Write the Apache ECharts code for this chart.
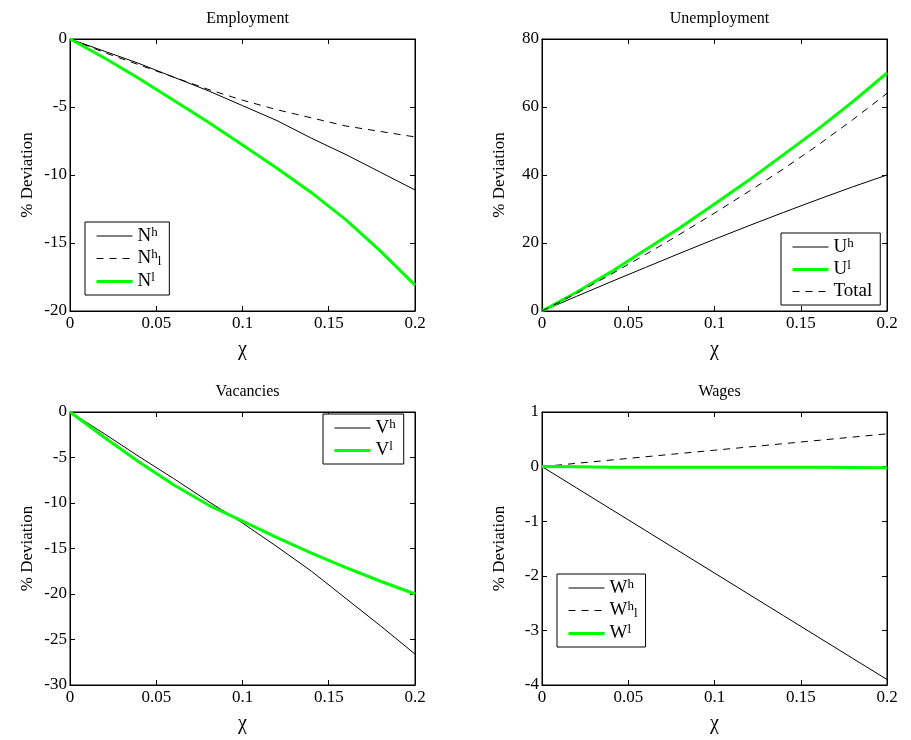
<!DOCTYPE html>
<html>
<head>
<meta charset="utf-8">
<script src="https://cdn.jsdelivr.net/npm/echarts@6/dist/echarts.min.js"></script>
<style>
  html, body { margin: 0; padding: 0; background: #fff; }
  #chart { width: 911px; height: 740px; }
</style>
</head>
<body>
<div id="chart"></div>
<script>
// chi grid (x axis)
const chi = [0, 0.02, 0.04, 0.06, 0.08, 0.1, 0.12, 0.14, 0.16, 0.18, 0.2]

// Employment
const empNh = [0, -0.9, -1.8, -2.8, -3.8, -4.9, -6.0, -7.3, -8.5, -9.8, -11.1]
const empNhl = [0, -1.0, -1.9, -2.8, -3.7, -4.5, -5.2, -5.8, -6.4, -6.8, -7.2]
const empNl = [0, -1.4, -2.9, -4.5, -6.1, -7.8, -9.5, -11.3, -13.3, -15.6, -18.1]

// Unemployment
const unUh = [0, 4.3, 8.6, 12.8, 17.0, 21.1, 25.1, 29.0, 32.8, 36.5, 40.0]
const unUl = [0, 5.5, 11.5, 18.0, 24.5, 31.5, 38.5, 46.0, 53.5, 61.5, 70.0]
const unTotal = [0, 5.2, 10.8, 16.6, 22.6, 28.8, 35.2, 41.8, 48.8, 56.2, 64.0]

// Vacancies
const vacVh = [0, -2.4, -4.9, -7.3, -9.8, -12.2, -14.8, -17.5, -20.5, -23.5, -26.6]
const vacVl = [0, -2.8, -5.5, -8.0, -10.2, -12.0, -13.8, -15.5, -17.1, -18.6, -20.0]

// Wages
const wWh = [0, -0.39, -0.78, -1.17, -1.56, -1.95, -2.34, -2.73, -3.12, -3.51, -3.9]
const wWhl = [0, 0.06, 0.12, 0.18, 0.24, 0.3, 0.36, 0.42, 0.48, 0.54, 0.6]
const wWl = [0, -0.005, -0.01, -0.01, -0.01, -0.01, -0.01, -0.01, -0.01, -0.015, -0.02]

const titles = ['Employment', 'Unemployment', 'Vacancies', 'Wages']
const yRanges = [[-20, 0, 5], [0, 80, 20], [-30, 0, 5], [-4, 1, 1]]

const serif = 'Liberation Serif'
const GREEN = '#00ff00'

const chart = echarts.init(document.getElementById('chart'))

const grids = [
  { left: 70, top: 39, width: 345, height: 272 },
  { left: 542, top: 39, width: 345, height: 272 },
  { left: 70, top: 412, width: 345, height: 273 },
  { left: 542, top: 412, width: 345, height: 273 }
].map(g => Object.assign(g, { show: true, borderColor: '#000', borderWidth: 1, backgroundColor: '#fff' }))

const xAxes = []
const yAxes = []
grids.forEach((g, i) => {
  // bottom axis with labels
  xAxes.push({
    type: 'value',
    gridIndex: i,
    min: 0,
    max: 0.2,
    interval: 0.05,
    name: 'χ',
    nameLocation: 'middle',
    nameGap: 29,
    nameTextStyle: { fontFamily: serif, fontSize: 20, color: '#000' },
    axisLine: { show: true, onZero: false, lineStyle: { color: '#000' } },
    axisTick: { inside: true, length: 5, lineStyle: { color: '#000' } },
    axisLabel: { fontFamily: serif, fontSize: 17, color: '#000', margin: 4 },
    splitLine: { show: false }
  })
  // top axis, ticks only (box)
  xAxes.push({
    type: 'value',
    gridIndex: i,
    position: 'top',
    min: 0,
    max: 0.2,
    interval: 0.05,
    axisLine: { show: true, onZero: false, lineStyle: { color: '#000' } },
    axisTick: { inside: true, length: 5, lineStyle: { color: '#000' } },
    axisLabel: { show: false },
    splitLine: { show: false }
  })
  yAxes.push({
    type: 'value',
    gridIndex: i,
    min: yRanges[i][0],
    max: yRanges[i][1],
    interval: yRanges[i][2],
    name: '% Deviation',
    nameLocation: 'middle',
    nameGap: 34,
    nameTextStyle: { fontFamily: serif, fontSize: 17, color: '#000' },
    axisLine: { show: true, onZero: false, lineStyle: { color: '#000' } },
    axisTick: { inside: true, length: 5, lineStyle: { color: '#000' } },
    axisLabel: { fontFamily: serif, fontSize: 17, color: '#000', margin: 3 },
    splitLine: { show: false }
  })
  yAxes.push({
    type: 'value',
    gridIndex: i,
    position: 'right',
    min: yRanges[i][0],
    max: yRanges[i][1],
    interval: yRanges[i][2],
    axisLine: { show: true, onZero: false, lineStyle: { color: '#000' } },
    axisTick: { inside: true, length: 5, lineStyle: { color: '#000' } },
    axisLabel: { show: false },
    splitLine: { show: false }
  })
})

const titleOpts = titles.map((t, i) => ({
  text: t,
  left: grids[i].left + grids[i].width / 2,
  top: grids[i].top - 33,
  textAlign: 'center',
  textStyle: { fontFamily: serif, fontSize: 16, fontWeight: 'normal', color: '#000' }
}))

function pair (xs, ys) {
  return xs.map((x, k) => [x, ys[k]])
}

function line (name, idx, ys, kind) {
  const style = kind === 'green'
    ? { color: GREEN, width: 3, type: 'solid' }
    : { color: '#000', width: 1, type: kind === 'dash' ? [7, 6] : 'solid' }
  return {
    name: name,
    type: 'line',
    xAxisIndex: idx * 2,
    yAxisIndex: idx * 2,
    data: pair(chi, ys),
    symbol: 'none',
    lineStyle: style,
    itemStyle: { color: style.color },
    animation: false
  }
}

const series = [
  line('Nh', 0, empNh, 'solid'),
  line('Nhl', 0, empNhl, 'dash'),
  line('Nl', 0, empNl, 'green'),
  line('Uh', 1, unUh, 'solid'),
  line('Ul', 1, unUl, 'green'),
  line('Total', 1, unTotal, 'dash'),
  line('Vh', 2, vacVh, 'solid'),
  line('Vl', 2, vacVl, 'green'),
  line('Wh', 3, wWh, 'solid'),
  line('Whl', 3, wWhl, 'dash'),
  line('Wl', 3, wWl, 'green')
]

// legend labels with super/subscripts
const labelMap = {
  Nh: '{b|N}{sup|h}', Nhl: '{b|N}{sup|h}{sub|l}', Nl: '{b|N}{sup|l}',
  Uh: '{b|U}{sup|h}', Ul: '{b|U}{sup|l}', Total: '{b|Total}',
  Vh: '{b|V}{sup|h}', Vl: '{b|V}{sup|l}',
  Wh: '{b|W}{sup|h}', Whl: '{b|W}{sup|h}{sub|l}', Wl: '{b|W}{sup|l}'
}
const rich = {
  b: { fontFamily: serif, fontSize: 19, lineHeight: 20, color: '#000' },
  sup: { fontFamily: serif, fontSize: 13, lineHeight: 20, color: '#000', verticalAlign: 'top' },
  sub: { fontFamily: serif, fontSize: 13, lineHeight: 20, color: '#000', verticalAlign: 'bottom' }
}

function legend (names, left, top) {
  return {
    data: names,
    left: left,
    top: top,
    orient: 'vertical',
    itemWidth: 36,
    itemHeight: 14,
    itemGap: 3,
    padding: [4, 8, 4, 10],
    borderColor: '#000',
    borderWidth: 1,
    backgroundColor: '#fff',
    selectedMode: false,
    itemStyle: { opacity: 0 },
    lineStyle: { width: 'inherit' },
    formatter: n => labelMap[n],
    textStyle: { rich: rich }
  }
}

chart.setOption({
  backgroundColor: '#fff',
  animation: false,
  title: titleOpts,
  grid: grids,
  xAxis: xAxes,
  yAxis: yAxes,
  legend: [
    legend(['Nh', 'Nhl', 'Nl'], 85, 222),
    legend(['Uh', 'Ul', 'Total'], 781, 233),
    legend(['Vh', 'Vl'], 323, 414),
    legend(['Wh', 'Whl', 'Wl'], 557, 574)
  ],
  series: series
})
</script>
</body>
</html>
